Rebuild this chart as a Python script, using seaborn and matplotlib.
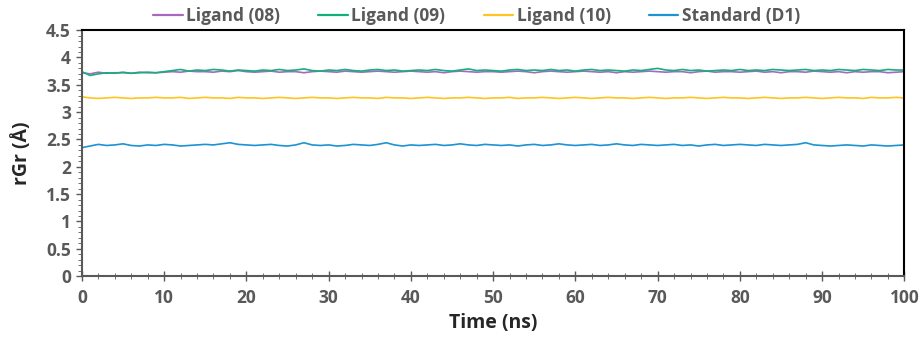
import numpy as np
import pandas as pd
import matplotlib
matplotlib.use("Agg")
import matplotlib.pyplot as plt
import seaborn as sns
from matplotlib.ticker import MultipleLocator

# time axis (ns)
time_ns = list(range(0, 101))

rg_08 = [3.72, 3.70, 3.73, 3.71, 3.72, 3.72, 3.71, 3.73, 3.72, 3.72, 3.73,
         3.74, 3.73, 3.75, 3.74, 3.74, 3.73, 3.75, 3.74, 3.76, 3.74,
         3.73, 3.74, 3.75, 3.73, 3.74, 3.74, 3.72, 3.74, 3.75, 3.74,
         3.73, 3.75, 3.74, 3.73, 3.74, 3.75, 3.74, 3.73, 3.74, 3.75,
         3.74, 3.73, 3.74, 3.72, 3.74, 3.75, 3.74, 3.73, 3.74, 3.74,
         3.73, 3.74, 3.75, 3.74, 3.72, 3.74, 3.75, 3.74, 3.73, 3.74,
         3.75, 3.74, 3.73, 3.74, 3.72, 3.74, 3.73, 3.74, 3.75, 3.74,
         3.73, 3.74, 3.74, 3.72, 3.74, 3.75, 3.73, 3.74, 3.74, 3.73,
         3.74, 3.75, 3.73, 3.74, 3.72, 3.74, 3.74, 3.73, 3.75, 3.74,
         3.73, 3.74, 3.72, 3.74, 3.73, 3.74, 3.74, 3.72, 3.73, 3.74]

rg_09 = [3.74, 3.67, 3.70, 3.72, 3.71, 3.73, 3.71, 3.72, 3.73, 3.72, 3.74,
         3.76, 3.78, 3.75, 3.77, 3.76, 3.78, 3.77, 3.75, 3.77, 3.76,
         3.75, 3.77, 3.76, 3.78, 3.76, 3.77, 3.79, 3.76, 3.75, 3.77,
         3.76, 3.78, 3.76, 3.75, 3.77, 3.78, 3.76, 3.77, 3.75, 3.76,
         3.77, 3.76, 3.78, 3.76, 3.75, 3.77, 3.79, 3.76, 3.77, 3.76,
         3.75, 3.77, 3.78, 3.76, 3.77, 3.76, 3.78, 3.76, 3.77, 3.75,
         3.77, 3.78, 3.76, 3.77, 3.76, 3.75, 3.77, 3.76, 3.78, 3.80,
         3.77, 3.76, 3.78, 3.76, 3.77, 3.75, 3.76, 3.77, 3.76, 3.78,
         3.76, 3.77, 3.76, 3.78, 3.77, 3.76, 3.77, 3.78, 3.76, 3.77,
         3.76, 3.78, 3.77, 3.76, 3.78, 3.77, 3.76, 3.78, 3.77, 3.77]

rg_10 = [3.28, 3.26, 3.25, 3.26, 3.27, 3.26, 3.25, 3.26, 3.26, 3.27, 3.26,
         3.26, 3.27, 3.25, 3.26, 3.27, 3.26, 3.26, 3.25, 3.27, 3.26,
         3.26, 3.25, 3.26, 3.27, 3.26, 3.25, 3.26, 3.27, 3.26, 3.26,
         3.25, 3.26, 3.27, 3.26, 3.26, 3.25, 3.27, 3.26, 3.26, 3.25,
         3.26, 3.27, 3.26, 3.25, 3.26, 3.26, 3.27, 3.26, 3.25, 3.26,
         3.26, 3.27, 3.25, 3.26, 3.26, 3.27, 3.26, 3.25, 3.26, 3.27,
         3.26, 3.25, 3.26, 3.27, 3.26, 3.26, 3.25, 3.26, 3.27, 3.26,
         3.25, 3.26, 3.26, 3.27, 3.26, 3.25, 3.26, 3.27, 3.26, 3.26,
         3.25, 3.26, 3.27, 3.26, 3.25, 3.26, 3.26, 3.27, 3.26, 3.25,
         3.26, 3.27, 3.26, 3.26, 3.25, 3.27, 3.26, 3.26, 3.27, 3.26]

rg_d1 = [2.35, 2.38, 2.41, 2.39, 2.40, 2.42, 2.39, 2.38, 2.40, 2.39, 2.41,
         2.40, 2.38, 2.39, 2.40, 2.41, 2.40, 2.42, 2.44, 2.41, 2.40,
         2.39, 2.40, 2.41, 2.39, 2.38, 2.40, 2.44, 2.40, 2.39, 2.40,
         2.38, 2.39, 2.41, 2.40, 2.39, 2.41, 2.44, 2.40, 2.38, 2.40,
         2.39, 2.40, 2.41, 2.39, 2.40, 2.42, 2.40, 2.39, 2.41, 2.40,
         2.39, 2.40, 2.38, 2.40, 2.41, 2.39, 2.40, 2.42, 2.40, 2.39,
         2.40, 2.41, 2.39, 2.40, 2.42, 2.40, 2.39, 2.41, 2.40, 2.39,
         2.40, 2.41, 2.39, 2.40, 2.38, 2.40, 2.41, 2.39, 2.40, 2.41,
         2.40, 2.39, 2.41, 2.40, 2.39, 2.40, 2.41, 2.44, 2.40, 2.39,
         2.38, 2.39, 2.40, 2.39, 2.38, 2.40, 2.39, 2.38, 2.39, 2.40]

series_names = ["Ligand (08)", "Ligand (09)", "Ligand (10)", "Standard (D1)"]
series_colors = ["#A569C3", "#12B07A", "#FFC41F", "#1C93D3"]

# long-form table for seaborn
frames = []
for name, vals in zip(series_names, [rg_08, rg_09, rg_10, rg_d1]):
    frames.append(pd.DataFrame({"time": time_ns, "rg": vals, "series": name}))
df = pd.concat(frames, ignore_index=True)

sns.set_style("white")
plt.rcParams['font.family'] = ['Open Sans', 'DejaVu Sans']
gray = "#595959"

fig = plt.figure(figsize=(9.2, 3.5), dpi=100)
ax = fig.add_axes([0.089, 0.211, 0.894, 0.703])

sns.lineplot(data=df, x="time", y="rg", hue="series", hue_order=series_names,
             palette=series_colors, linewidth=1.2, ax=ax, legend=True)

ax.set_xlim(0, 100)
ax.set_ylim(0, 4.5)
ax.xaxis.set_major_locator(MultipleLocator(10))
ax.xaxis.set_minor_locator(MultipleLocator(2))
ax.yaxis.set_major_locator(MultipleLocator(0.5))
ax.yaxis.set_minor_locator(MultipleLocator(0.1))
ax.yaxis.set_major_formatter(plt.FuncFormatter(lambda v, p: f"{v:g}"))

ax.tick_params(axis="both", which="major", labelsize=12.5, labelcolor=gray,
               color=gray, width=1)
ax.tick_params(axis="x", which="major", direction="inout", length=7, pad=6)
ax.tick_params(axis="x", which="minor", direction="inout", length=5, color=gray)
ax.tick_params(axis="y", which="major", direction="out", length=4, pad=4)
ax.tick_params(axis="y", which="minor", direction="out", length=3, color=gray)
ax.tick_params(bottom=True, left=True, which="both")
for lab in ax.get_xticklabels() + ax.get_yticklabels():
    lab.set_fontweight("bold")

ax.set_xlabel("Time (ns)", fontsize=14, fontweight="bold", labelpad=4)
ax.set_ylabel("rGr (Å)", fontsize=14, fontweight="bold", labelpad=10)

for side in ["left", "bottom"]:
    ax.spines[side].set_color(gray)
    ax.spines[side].set_linewidth(1.5)
for side in ["top", "right"]:
    ax.spines[side].set_color("black")
    ax.spines[side].set_linewidth(1.5)

handles, labels = ax.get_legend_handles_labels()
for h in handles:
    h.set_linewidth(1.6)
leg = ax.legend(handles, labels, loc="lower center", bbox_to_anchor=(0.48, 1.015),
                ncol=4, frameon=False, handlelength=1.7, handletextpad=0.2,
                columnspacing=2.2, borderaxespad=0.0, borderpad=0.1,
                prop={"weight": "bold", "size": 12.5})
for t in leg.get_texts():
    t.set_color(gray)

fig.savefig("out.png", dpi=100)
